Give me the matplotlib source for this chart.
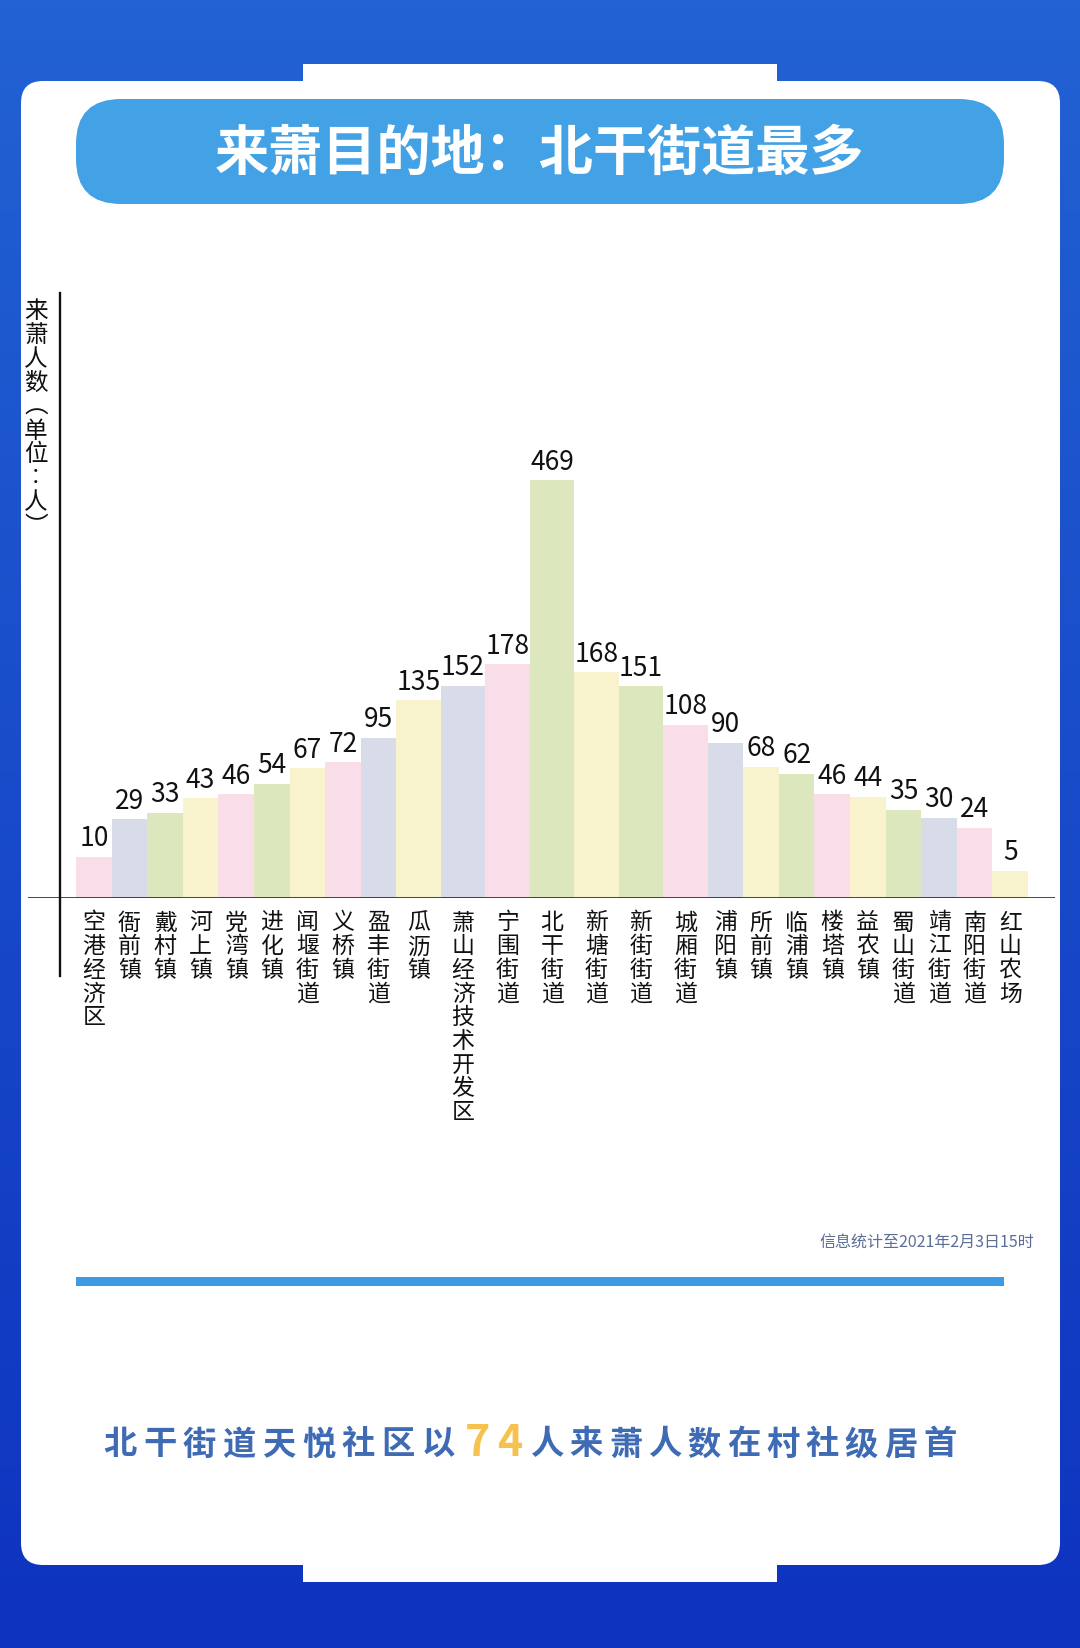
import numpy as np
import matplotlib
matplotlib.use("Agg")
import matplotlib.pyplot as plt
from matplotlib.patches import FancyBboxPatch, Rectangle

plt.rcParams["font.family"] = ["Noto Sans CJK SC", "DejaVu Sans"]

# 数据
towns = ["空港经济区", "衙前镇", "戴村镇", "河上镇", "党湾镇", "进化镇", "闻堰街道", "义桥镇",
         "盈丰街道", "瓜沥镇", "萧山经济技术开发区", "宁围街道", "北干街道", "新塘街道", "新街街道",
         "城厢街道", "浦阳镇", "所前镇", "临浦镇", "楼塔镇", "益农镇", "蜀山街道", "靖江街道",
         "南阳街道", "红山农场"]
counts = [10, 29, 33, 43, 46, 54, 67, 72, 95, 135, 152, 178, 469, 168, 151,
          108, 90, 68, 62, 46, 44, 35, 30, 24, 5]
top_community = "北干街道天悦社区"
top_community_count = 74

PINK, GREY, GREEN, YELLOW = "#f9dee9", "#d7dce8", "#dde7be", "#f8f3cd"
colors = [PINK, GREY, GREEN, YELLOW, PINK, GREEN, YELLOW, PINK, GREY, YELLOW, GREY, PINK,
          GREEN, YELLOW, GREEN, PINK, GREY, YELLOW, GREEN, PINK, YELLOW, GREEN, GREY, PINK, YELLOW]

# 中间几根柱子更宽
widths = np.array([1.25 if 9 <= i <= 15 else 1.0 for i in range(len(counts))])
lefts = np.concatenate([[0], np.cumsum(widths)[:-1]])
centers = lefts + widths / 2

W, H = 1080, 1649
fig = plt.figure(figsize=(W / 100, H / 100), dpi=100)

# 背景层 (像素坐标)
bg = fig.add_axes([0, 0, 1, 1], zorder=0)
bg.set_xlim(0, W)
bg.set_ylim(H, 0)
bg.axis("off")

grad = np.linspace(0, 1, 256).reshape(-1, 1)
top_c = np.array([0x22, 0x62, 0xd3]) / 255
bot_c = np.array([0x0e, 0x33, 0xbf]) / 255
img = top_c * (1 - grad[..., None]) + bot_c * grad[..., None]
bg.imshow(img, extent=(0, W, H, 0), aspect="auto", zorder=0)

bg.add_patch(FancyBboxPatch((21, 82), 1039, 1484, boxstyle="round,pad=0,rounding_size=22",
                            fc="white", ec="none", zorder=1))
bg.add_patch(Rectangle((303, 65), 474, 40, fc="white", ec="none", zorder=1))
bg.add_patch(Rectangle((303, 1540), 474, 43, fc="white", ec="none", zorder=1))

# 标题
bg.add_patch(FancyBboxPatch((76, 100), 928, 105, boxstyle="round,pad=0,rounding_size=45",
                            fc="#43a1e6", ec="none", zorder=2))
bg.text(540, 154, "来萧目的地：北干街道最多", color="white", fontsize=39, fontweight="heavy",
        ha="center", va="center", zorder=3)

# 纵轴线
bg.plot([60, 60], [294, 977], color="#111111", lw=1.7, zorder=3)

# 柱状图
ax = fig.add_axes([28 / W, (H - 899) / H, 1027 / W, 605 / H], zorder=2)
ax.patch.set_alpha(0)
ax.bar(centers, counts, width=widths, color=colors, edgecolor="none", zorder=2)
ax.set_yscale("function", functions=(lambda v: np.power(np.clip(v, 0, None), 0.6),
                                     lambda v: np.power(np.clip(v, 0, None), 1 / 0.6)))
ax.set_ylim(0, 870)
ax.set_xlim(-1.35, widths.sum() + 0.76)
ax.axhline(0, color="#111111", lw=1.8, zorder=3)

for x, v in zip(centers, counts):
    ax.annotate(str(v), (x, v), xytext=(0, 4), textcoords="offset points",
                ha="center", va="bottom", fontsize=19, color="#111111")

ax.set_xticks(centers, labels=["\n".join(t) for t in towns])
ax.tick_params(axis="x", length=0, pad=9, labelsize=16.5, labelcolor="#111111")
for lbl in ax.get_xticklabels():
    lbl.set_linespacing(1.04)
ax.set_yticks([])
for s in ax.spines.values():
    s.set_visible(False)

ax.set_ylabel("\n".join("来萧人数︵单位︰人︶"), rotation=0, ha="center", va="top",
              fontsize=17, linespacing=1.05, color="#111111")
ax.yaxis.set_label_coords((36 - 28) / 1027, (899 - 300) / 605)

# 注释与分隔线
bg.text(1034, 1242, "信息统计至2021年2月3日15时", color="#5b6f96", fontsize=11.5,
        ha="right", va="center", zorder=3)
bg.add_patch(Rectangle((76, 1278), 928, 9, fc="#3d9ae3", ec="none", zorder=2))

# 底部文字
part1 = top_community + "以"
part2 = "人来萧人数在村社级居首"
blue_txt = "#3e6bb4"
for i, ch in enumerate(part1):
    bg.text(120 + i * 39.75, 1445, ch, color=blue_txt, fontsize=24, fontweight="bold",
            ha="center", va="center", zorder=3)
for i, ch in enumerate(str(top_community_count)):
    bg.text(478 + i * 32, 1443, ch, color="#f6c24d", fontsize=31, fontweight="bold",
            ha="center", va="center", zorder=3)
for i, ch in enumerate(part2):
    bg.text(547 + i * 39.3, 1445, ch, color=blue_txt, fontsize=24, fontweight="bold",
            ha="center", va="center", zorder=3)

fig.savefig("out.png", dpi=100)
